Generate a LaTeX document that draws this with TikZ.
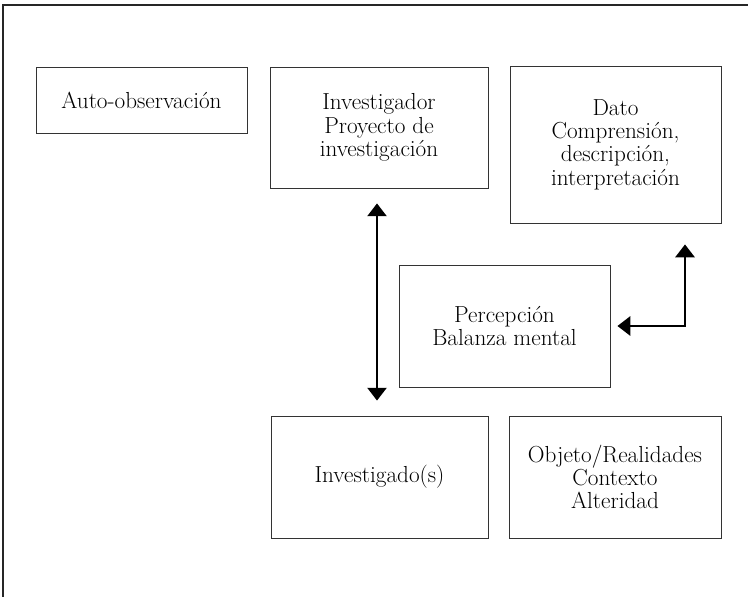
\documentclass[tikz,border=0pt]{standalone}
\usepackage{tikz}
\usetikzlibrary{calc,arrows.meta}

\tikzset{
  caja/.style={draw=black!80,line width=0.6pt,align=center,inner sep=0pt,
    font=\fontsize{16.5}{16.6}\selectfont},
  flecha/.style={line width=1.4pt,{Triangle[width=0.48cm,length=0.32cm]}-{Triangle[width=0.48cm,length=0.32cm]}}
}

\begin{document}
\begin{tikzpicture}[x=0.025cm,y=-0.025cm]
				\useasboundingbox (0,0) rectangle (748,597);
				\draw[line width=0.9pt,black!85] (3,597) -- (3,5) -- (748,5);
				\node[caja,minimum width=5.275cm,minimum height=1.65cm] (auto) at (141.5,100) {Auto-observación};
				\node[caja,minimum width=5.45cm,minimum height=3.025cm] (invtor) at (379,127.5) {Investigador\\Proyecto de\\investigación};
				\node[caja,minimum width=5.275cm,minimum height=3.925cm] (dato) at (615.5,144.5) {Dato\\Comprensión,\\descripción,\\interpretación};
				\node[caja,minimum width=5.275cm,minimum height=3.05cm] (perc) at (504.5,326) {Percepción\\Balanza mental};
				\node[caja,minimum width=5.425cm,minimum height=3.05cm] (invdo) at (379.5,477) {Investigado(s)};
				\node[caja,minimum width=5.3cm,minimum height=3.05cm] (objeto) at (615,477) {Objeto/Realidades\\Contexto\\Alteridad};
				\coordinate (esq) at ($(dato.south)+(69.5,0)$);
				\coordinate (arr) at ([xshift=-0.05cm]invtor.south);
				\draw[flecha,shorten <=0.375cm,shorten >=0.375cm] (arr) -- (arr |- invdo.north);
				\draw[flecha,shorten <=0.175cm,shorten >=0.525cm] (perc.east) -| (esq);
			\end{tikzpicture}
\end{document}
